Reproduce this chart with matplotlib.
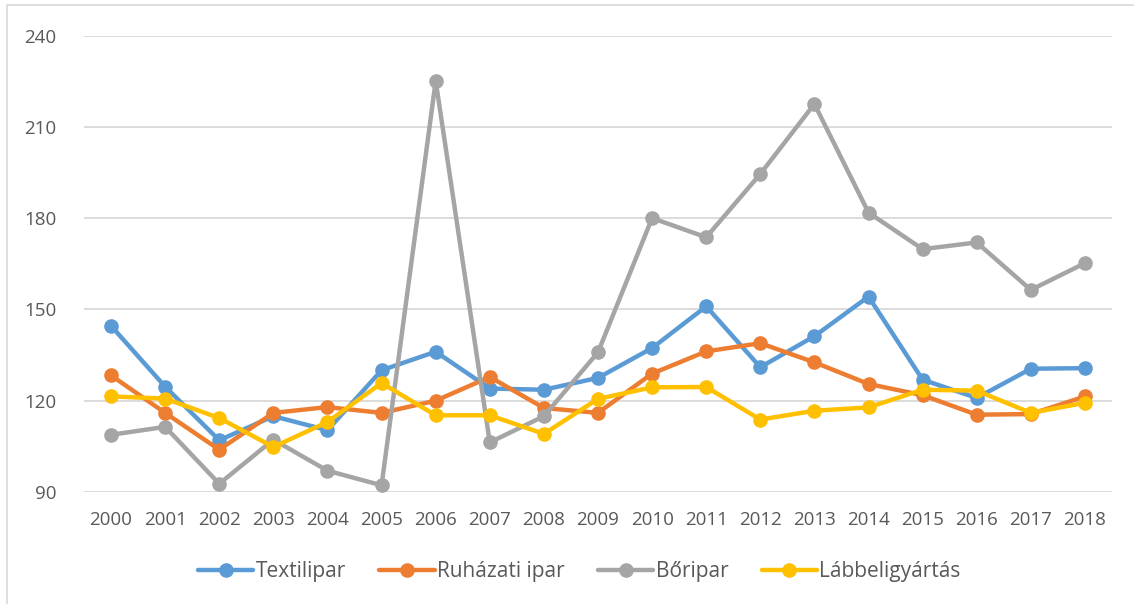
import numpy as np
import matplotlib.pyplot as plt
from matplotlib.patches import Rectangle

plt.rcParams['font.family'] = ['Open Sans', 'DejaVu Sans']

years = [str(y) for y in range(2000, 2019)]

# Index values
textil = [144.6, 124.6, 107.0, 114.9, 110.3, 130.0, 136.1, 124.0, 123.6, 127.5,
          137.3, 151.0, 131.0, 141.2, 154.2, 126.9, 120.9, 130.5, 130.7]
ruhazati = [128.3, 116.0, 103.9, 116.0, 117.9, 116.0, 120.0, 127.8, 117.6, 116.0,
            128.9, 136.2, 138.9, 132.6, 125.5, 121.8, 115.4, 115.6, 121.4]
boripar = [108.8, 111.4, 92.7, 107.2, 97.0, 92.2, 225.1, 106.3, 114.9, 135.9,
           180.0, 173.7, 194.5, 217.5, 181.8, 169.8, 172.0, 156.4, 165.2]
labbeli = [121.4, 120.7, 114.3, 104.8, 113.0, 125.8, 115.2, 115.2, 109.1, 120.6,
           124.4, 124.5, 113.8, 116.7, 117.8, 123.6, 123.3, 116.0, 119.3]

names = ['Textilipar', 'Ruházati ipar', 'Bőripar', 'Lábbeligyártás']
colors = ['#5b9bd5', '#ed7d31', '#a5a5a5', '#ffc000']
yticks = [90, 120, 150, 180, 210, 240]

fig = plt.figure(figsize=(11.34, 6.04), dpi=100)
ax = fig.add_axes([84/1134, 1 - 492/604, (1112-84)/1134, (492-35.5)/604])

x = np.arange(len(years))
for vals, name, c in zip([textil, ruhazati, boripar, labbeli], names, colors):
    ax.plot(x, vals, color=c, lw=3.2, marker='o', ms=9.5, label=name,
            solid_capstyle='round', solid_joinstyle='round')

ax.set_xlim(-0.5, len(years) - 0.5)
ax.set_ylim(90, 240)
ax.set_yticks(yticks)
ax.set_xticks(x)
ax.set_xticklabels(years)
ax.grid(axis='y', color='#d9d9d9', lw=1.3)
ax.set_axisbelow(True)
for s in ax.spines.values():
    s.set_visible(False)
ax.tick_params(length=0, labelsize=13.5, colors='#595959')
ax.tick_params(axis='x', pad=14)
ax.tick_params(axis='y', pad=20)

leg = fig.legend(loc='center', bbox_to_anchor=(0.511, 1 - 572/604), ncol=4,
                 frameon=False, fontsize=15, handlelength=2.65,
                 columnspacing=1.6, handletextpad=0.12)
for t in leg.get_texts():
    t.set_color('#595959')

fig.patches.append(Rectangle((7/1134, -0.1), 1.2, 1 - 5/604 + 0.1,
                             transform=fig.transFigure, fill=False,
                             edgecolor='#d9d9d9', lw=1.2))

fig.savefig('out.png', dpi=100)
